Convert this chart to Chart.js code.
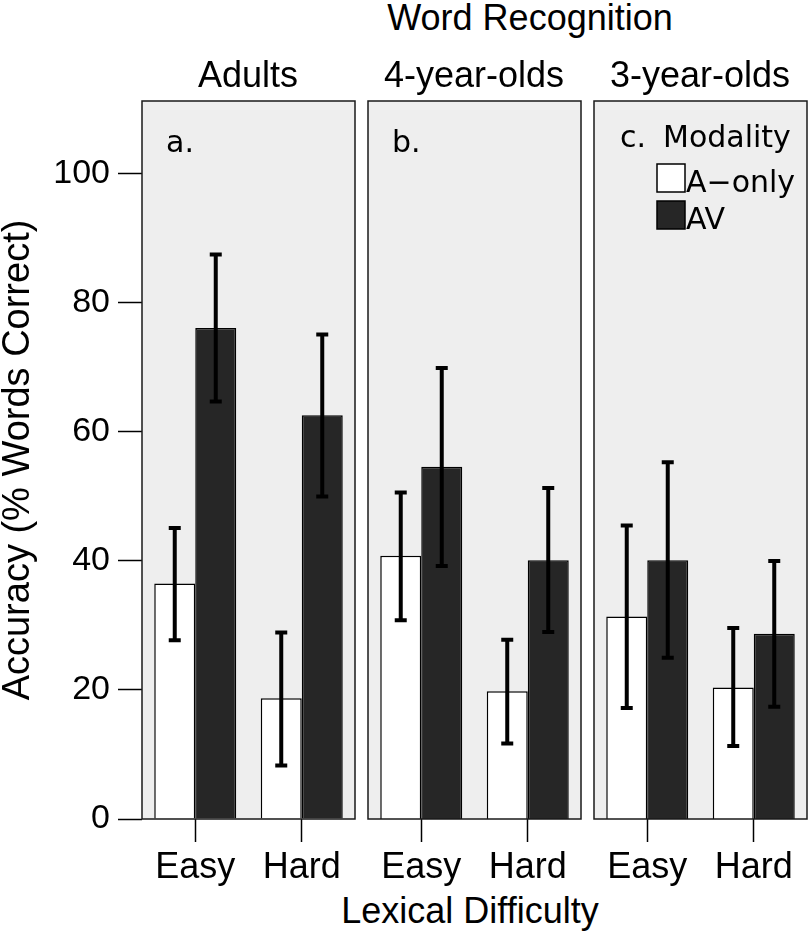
<!DOCTYPE html>
<html>
<head>
<meta charset="utf-8">
<title>Word Recognition</title>
<script src="https://cdn.jsdelivr.net/npm/chart.js@4.4.0/dist/chart.umd.min.js"></script>
<style>
  html, body { margin: 0; padding: 0; background: #fff; }
  #fig { position: relative; width: 810px; height: 932px; font-family: "Liberation Sans", Arial, sans-serif; color: #000; overflow: hidden; }
  .panel { position: absolute; top: 0; height: 932px; }
  .lbl { position: absolute; font-size: 36px; line-height: 36px; white-space: nowrap; transform: translateX(-50%); }
</style>
</head>
<body>
<div id="fig">
  <div class="lbl" style="left:530px; top:0px;">Word Recognition</div>
  <div class="lbl" style="left:470px; top:893px;">Lexical Difficulty</div>
  <div class="panel" style="left:0px; width:358px;"><canvas id="c0"></canvas></div>
  <div class="panel" style="left:365px; width:219px;"><canvas id="c1"></canvas></div>
  <div class="panel" style="left:591px; width:219px;"><canvas id="c2"></canvas></div>
</div>

<script>
// data (percent words correct)
const groups = ['Adults', '4-year-olds', '3-year-olds'];
const panelTags = ['a.', 'b.', 'c.'];
const categories = ['Easy', 'Hard'];
const seriesNames = ['A\u2212only', 'AV'];

// one row per panel: [Easy, Hard]
const aOnly     = [[36.5, 18.7], [40.8, 19.8], [31.4, 20.4]];
const aOnlyLow  = [[27.7,  8.3], [30.8, 11.7], [17.2, 11.3]];
const aOnlyHigh = [[45.1, 28.9], [50.6, 27.8], [45.5, 29.6]];
const av        = [[76.1, 62.6], [54.6, 40.1], [40.1, 28.7]];
const avLow     = [[64.7, 50.0], [39.2, 29.0], [25.0, 17.4]];
const avHigh    = [[87.5, 75.1], [69.9, 51.3], [55.3, 40.0]];

const yTicks = [0, 20, 40, 60, 80, 100];
const yMax = 111.3;

const barColors = ['#ffffff', '#262626'];
const panelBg = '#eeeeee';
const tagFont = '30px "DejaVu Sans"';

/* --- panel background, error bars, frame, tags, legend --- */
const panelDeco = {
  id: 'panelDeco',
  beforeDraw(chart) {
    const a = chart.chartArea;
    const ctx = chart.ctx;
    ctx.save();
    ctx.fillStyle = panelBg;
    ctx.fillRect(a.left, a.top, a.right - a.left, a.bottom - a.top);
    ctx.restore();
  },
  afterDatasetsDraw(chart, args, opts) {
    const ctx = chart.ctx;
    const a = chart.chartArea;
    const yScale = chart.scales.y;
    const p = opts.panel;
    const lows = [aOnlyLow[p], avLow[p]];
    const highs = [aOnlyHigh[p], avHigh[p]];

    ctx.save();
    ctx.strokeStyle = '#000';
    ctx.lineWidth = 4;
    ctx.lineCap = 'butt';
    chart.data.datasets.forEach((ds, d) => {
      const meta = chart.getDatasetMeta(d);
      meta.data.forEach((bar, j) => {
        const y0 = yScale.getPixelForValue(lows[d][j]);
        const y1 = yScale.getPixelForValue(highs[d][j]);
        ctx.beginPath();
        ctx.moveTo(bar.x, y0);
        ctx.lineTo(bar.x, y1);
        ctx.moveTo(bar.x - 6, y0);
        ctx.lineTo(bar.x + 6, y0);
        ctx.moveTo(bar.x - 6, y1);
        ctx.lineTo(bar.x + 6, y1);
        ctx.stroke();
      });
    });

    // panel frame
    ctx.lineWidth = 1.5;
    ctx.strokeStyle = '#1a1a1a';
    ctx.strokeRect(a.left, a.top, a.right - a.left, a.bottom - a.top);

    // panel tag
    ctx.fillStyle = '#000';
    ctx.font = tagFont;
    ctx.textBaseline = 'alphabetic';
    ctx.textAlign = 'left';
    if (p < 2) {
      ctx.fillText(panelTags[p], a.left + 24, 152);
    } else {
      ctx.fillText(panelTags[p], a.left + 26, 147);
      ctx.fillText('Modality', a.left + 69, 147);
      // legend
      seriesNames.forEach((name, k) => {
        const top = 164 + k * 37;
        ctx.fillStyle = barColors[k];
        ctx.fillRect(a.left + 63, top, 28, 28);
        ctx.lineWidth = 1.5;
        ctx.strokeStyle = '#000';
        ctx.strokeRect(a.left + 63, top, 28, 28);
        ctx.fillStyle = '#000';
        ctx.fillText(name, a.left + 92, top + 28);
      });
    }
    ctx.restore();
  }
};

function makePanel(p) {
  const first = p === 0;
  return new Chart(document.getElementById('c' + p), {
    type: 'bar',
    data: {
      labels: categories,
      datasets: [
        { label: seriesNames[0], data: aOnly[p], backgroundColor: barColors[0] },
        { label: seriesNames[1], data: av[p], backgroundColor: barColors[1] }
      ]
    },
    options: {
      responsive: true,
      maintainAspectRatio: false,
      animation: false,
      layout: { padding: { top: 101, right: 3, left: first ? 0 : 3, bottom: 0 } },
      datasets: {
        bar: {
          borderColor: '#000',
          borderWidth: 1.5,
          categoryPercentage: 0.77,
          barPercentage: 1
        }
      },
      plugins: {
        legend: { display: false },
        tooltip: { enabled: false },
        panelDeco: { panel: p }
      },
      scales: {
        x: {
          offset: true,
          afterFit: s => { s.height = 113; s.paddingLeft = 0; s.paddingRight = 0; },
          border: { display: false },
          grid: {
            offset: false,
            drawOnChartArea: false,
            drawTicks: true,
            tickLength: 23,
            tickWidth: 1.5,
            tickColor: '#000'
          },
          ticks: {
            color: '#000',
            padding: 4,
            maxRotation: 0,
            minRotation: 0,
            autoSkip: false,
            font: { family: 'Liberation Sans', size: 36 }
          }
        },
        y: {
          display: first,
          min: 0,
          max: yMax,
          afterFit: s => { s.width = first ? 142 : 0; },
          afterBuildTicks: s => { s.ticks = yTicks.map(v => ({ value: v })); },
          border: { display: false },
          grid: {
            drawOnChartArea: false,
            drawTicks: true,
            tickLength: 24,
            tickWidth: 1.5,
            tickColor: '#000'
          },
          ticks: {
            color: '#000',
            padding: 8,
            font: { family: 'Liberation Sans', size: 34 }
          },
          title: {
            display: true,
            text: 'Accuracy (% Words Correct)',
            color: '#000',
            padding: 0,
            font: { family: 'Liberation Sans', size: 38, lineHeight: 1 }
          }
        }
      }
    },
    plugins: [panelDeco]
  });
}

// strip labels over each panel
const stripCenters = [248, 474, 700];
groups.forEach((g, p) => {
  const el = document.createElement('div');
  el.className = 'lbl';
  el.style.left = stripCenters[p] + 'px';
  el.style.top = '57px';
  el.textContent = g;
  document.getElementById('fig').appendChild(el);
});

groups.forEach((g, p) => makePanel(p));
</script>
</body>
</html>
